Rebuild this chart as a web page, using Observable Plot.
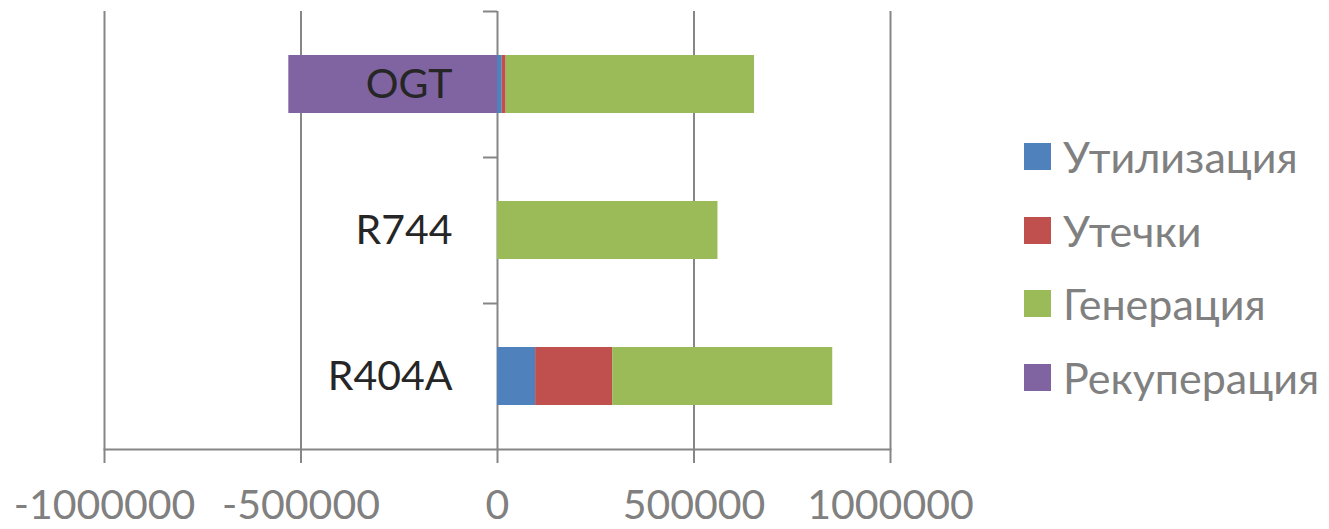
<!DOCTYPE html>
<html>
<head>
<meta charset="utf-8">
<script src="https://cdn.jsdelivr.net/npm/d3@7"></script>
<script src="https://cdn.jsdelivr.net/npm/@observablehq/plot@0.6"></script>
<style>
  html, body { margin: 0; padding: 0; background: #fff; }
  #wrap { position: relative; width: 1329px; height: 529px; overflow: hidden; font-family: Lato, sans-serif; }
  #chart { position: absolute; left: 0; top: 0; }
  #legend { position: absolute; left: 1024px; top: 120px; }
  .item { display: flex; align-items: center; height: 73.5px; }
  .sw { width: 27px; height: 27px; margin-right: 12px; flex: none; }
  .lab { font-size: 43px; color: #808080; white-space: nowrap; }
</style>
</head>
<body>
<div id="wrap">
  <div id="chart"></div>
  <div id="legend"></div>
</div>
<script>
// Refrigerants, top to bottom
const categories = ["OGT", "R744", "R404A"];
// Series in stacking order
const series = ["Утилизация", "Утечки", "Генерация", "Рекуперация"];
const colors = ["#4F81BD", "#C0504D", "#9BBB59", "#8064A2"];
// Values per series, one per refrigerant
const utilization = [12000, 0, 97000];
const leaks = [10000, 0, 196000];
const generation = [632000, 561000, 560000];
const recovery = [-531000, 0, 0];
// Axis ticks
const xTicks = [-1000000, -500000, 0, 500000, 1000000];

const seriesValues = [utilization, leaks, generation, recovery];
const rows = [];
seriesValues.forEach((vals, s) => {
  vals.forEach((v, c) => rows.push({category: categories[c], series: series[s], value: v}));
});

const gridColor = "#868686";
const W = 1000, H = 529;
const mTop = 11, mBottom = 80;
const step = (H - mTop - mBottom) / categories.length;

const chart = Plot.plot({
  width: W,
  height: H,
  marginLeft: 104,
  marginRight: 110,
  marginTop: mTop,
  marginBottom: mBottom,
  style: {fontFamily: "Lato, sans-serif", overflow: "visible", background: "#fff"},
  x: {domain: [-1000000, 1000000], ticks: xTicks},
  y: {domain: categories, paddingInner: 0.6, paddingOuter: 0.3, axis: null},
  color: {domain: series, range: colors},
  marks: [
    // vertical gridlines, including the zero axis
    Plot.ruleX(xTicks, {stroke: gridColor, strokeWidth: 2}),
    // bottom axis line
    Plot.frame({anchor: "bottom", stroke: gridColor, strokeWidth: 2}),
    // category boundary ticks on the zero axis
    Plot.ruleY(categories, {y: d => d, x1: 0, x2: 0, insetLeft: -14, dy: -step / 2, stroke: gridColor, strokeWidth: 2}),
    // stacked bars
    Plot.barX(rows, Plot.stackX({y: "category", x: "value", fill: "series", order: series})),
    // category labels, drawn over the bars
    Plot.text(categories, {y: d => d, x: 0, text: d => d, textAnchor: "end", dx: -45, fontSize: 41, fill: "#262626"}),
    Plot.axisX({
      ticks: xTicks,
      tickSize: 14,
      tickPadding: 26,
      tickFormat: d => String(d),
      fontSize: 41,
      color: "#808080",
      stroke: gridColor,
      strokeWidth: 2,
      label: null
    })
  ]
});
document.getElementById("chart").appendChild(chart);

// legend to the right of the plot
const legend = d3.select("#legend");
series.forEach((s, i) => {
  const item = legend.append("div").attr("class", "item");
  item.append("div").attr("class", "sw").style("background", colors[i]);
  item.append("div").attr("class", "lab").text(s);
});
</script>
</body>
</html>
